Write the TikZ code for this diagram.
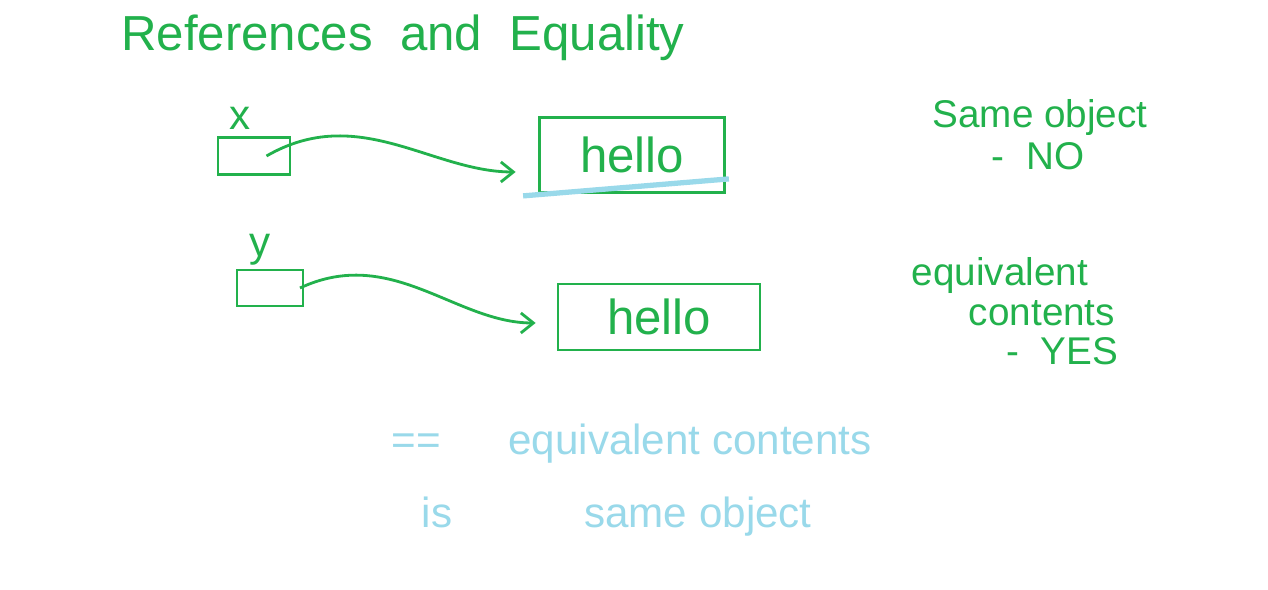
\documentclass[tikz,border=0pt]{standalone}
\usepackage{fontspec}
\setmainfont{Liberation Sans}
\usetikzlibrary{arrows.meta,positioning}
\definecolor{markgreen}{RGB}{34,177,76}
\definecolor{chalkblue}{RGB}{153,217,234}

\begin{document}
\begin{tikzpicture}[x=0.02cm, y=-0.02cm,
  ink/.style={text=markgreen, inner sep=0pt, font=\fontsize{24}{26}\selectfont},
  chalk/.style={text=chalkblue, inner sep=0pt, anchor=base, font=\fontsize{24}{26}\selectfont},
  note/.style={ink, anchor=base, font=\fontsize{22}{24}\selectfont},
  refbox/.style={draw=markgreen, line width=1.6pt, inner sep=0pt},
  objbox/.style={draw=markgreen, line width=1.6pt, inner sep=0pt, text=markgreen, font=\fontsize{28}{30}\selectfont},
  refarrow/.style={-{Straight Barb[length=2.5mm, width=4mm]}, markgreen, line width=1.6pt}
]
\useasboundingbox[fill=white] (0,0) rectangle (1268,590);

% title
\node[ink, font=\fontsize{28}{30}\selectfont] (title) at (403,38) {References\ \ and\ \ Equality};

% x refers to the first hello
\node[refbox, minimum width=1.44cm, minimum height=0.74cm] (xbox) at (254,156) {};
\node[ink] (xlabel) at (240,118) {x};
\node[objbox, minimum width=3.7cm, minimum height=1.5cm] (hello1) at (632,155) {hello};
\draw[refarrow, shorten >=0.45cm] ([xshift=0.25cm]xbox.center) to[out=30, in=180] ([yshift=-0.34cm]hello1.west);
\draw[chalkblue, line width=3pt] ([xshift=-0.3cm, yshift=-0.04cm]hello1.south west) -- ([xshift=0.06cm, yshift=0.3cm]hello1.south east);

% y refers to the second hello
\node[refbox, minimum width=1.32cm, minimum height=0.72cm] (ybox) at (270,288) {};
\node[ink] (ylabel) at (260,250) {y};
\node[objbox, minimum width=4.04cm, minimum height=1.32cm] (hello2) at (659,317) {hello};
\draw[refarrow, shorten >=0.42cm] ([xshift=0.6cm]ybox.center) to[out=25, in=180] ([yshift=-0.12cm]hello2.west);

% notes
\node[note] (sameno) at (1040,128) {Same object};
\node[note] (no) at (1038,170) {-\ \ NO};
\node[note] (equiv) at (1000,286) {equivalent};
\node[note] (contents) at (1042,326) {contents};
\node[note] (yes) at (1062,365) {-\ \ YES};

% operators
\node[chalk] (eqeq) at (416,455) {==};
\node[chalk] (eqcont) at (690,455) {equivalent contents};
\node[chalk] (isop) at (437,528) {is};
\node[chalk] (sameobj) at (698,528) {same object};
\end{tikzpicture}
\end{document}
